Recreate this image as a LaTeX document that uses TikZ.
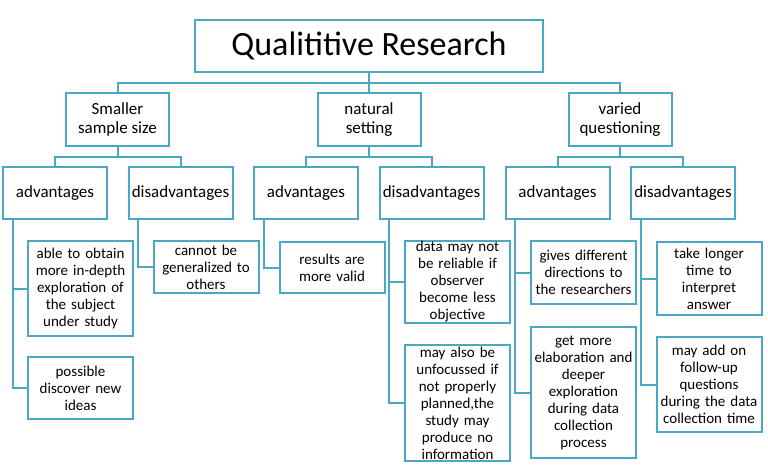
\documentclass[tikz,border=0pt]{standalone}
\usepackage{fontspec}
\setmainfont{Carlito}
\definecolor{boxblue}{RGB}{75,168,196}

\begin{document}
\begin{tikzpicture}[x=1pt,y=-1pt,
  box/.style={draw=boxblue, line width=2pt, fill=white, align=center, inner sep=1pt},
  topbox/.style={box, minimum width=348pt, minimum height=52pt, font=\fontsize{34}{40}\selectfont},
  headbox/.style={box, minimum width=103pt, minimum height=53pt, font=\fontsize{17}{18.5}\selectfont},
  sidebox/.style={box, minimum width=104pt, minimum height=52pt, font=\fontsize{17}{18.5}\selectfont},
  leafbox/.style={box, text width=103pt, minimum height=#1, font=\fontsize{15}{17}\selectfont},
  link/.style={draw=boxblue, line width=2pt}]
  \useasboundingbox (0,0) rectangle (768,465);
  % The title box
  \node[topbox] (title) at (369,46) {Qualititive Research};
  % The three topics
  \node[headbox] (s1) at (117.5,119.5) {Smaller\\sample size};
  \node[headbox] (s2) at (369,119.5) {natural\\setting};
  \node[headbox] (s3) at (620,119.5) {varied\\questioning};
  \foreach \s in {s1,s2,s3}
    \draw[link] (title.south) -- +(0,10) -| (\s.north);
  % advantages and disadvantages under each topic
  \foreach \n/\x/\t in {a1/55/advantages, d1/180.5/disadvantages,
                        a2/306/advantages, d2/431.5/disadvantages,
                        a3/557.5/advantages, d3/683/disadvantages}
    \node[sidebox] (\n) at (\x,193) {\t};
  \foreach \s/\a/\d in {s1/a1/d1, s2/a2/d2, s3/a3/d3} {
    \draw[link] (\s.south) -- +(0,10) -| (\a.north);
    \draw[link] (\s.south) -- +(0,10) -| (\d.north);
  }
  % Smaller sample size
  \node[leafbox=95pt] (a1x) at (80.5,288.5) {able to obtain\\more in-depth\\exploration of\\the subject\\under study};
  \node[leafbox=62pt] (a1y) at (80.5,388) {possible\\discover new\\ideas};
  \node[leafbox=52pt] (d1x) at (206,267) {cannot be\\generalized to\\others};
  % natural setting
  \node[leafbox=51pt] (a2x) at (332,267.5) {results are\\more valid};
  \node[leafbox=82pt] (d2x) at (457.5,282) {data may not\\be reliable if\\observer\\become less\\objective};
  \node[leafbox=116pt] (d2y) at (457.5,403) {may also be\\unfocussed if\\not properly\\planned,the\\study may\\produce no\\information};
  % varied questioning
  \node[leafbox=63pt] (a3x) at (583.5,272.5) {gives different\\directions to\\the researchers};
  \node[leafbox=131pt] (a3y) at (583.5,392.5) {get more\\elaboration and\\deeper\\exploration\\during data\\collection\\process};
  \node[leafbox=73pt] (d3x) at (709,278.5) {take longer\\time to\\interpret\\answer};
  \node[leafbox=95pt] (d3y) at (709,384.5) {may add on\\follow-up\\questions\\during the data\\collection time};
  % Side links to the leaves
  \foreach \p/\c in {a1/a1x, a1/a1y, d1/d1x, a2/a2x, d2/d2x, d2/d2y,
                     a3/a3x, a3/a3y, d3/d3x, d3/d3y}
    \draw[link] ([xshift=10.5pt]\p.south west) |- (\c.west);
\end{tikzpicture}
\end{document}
